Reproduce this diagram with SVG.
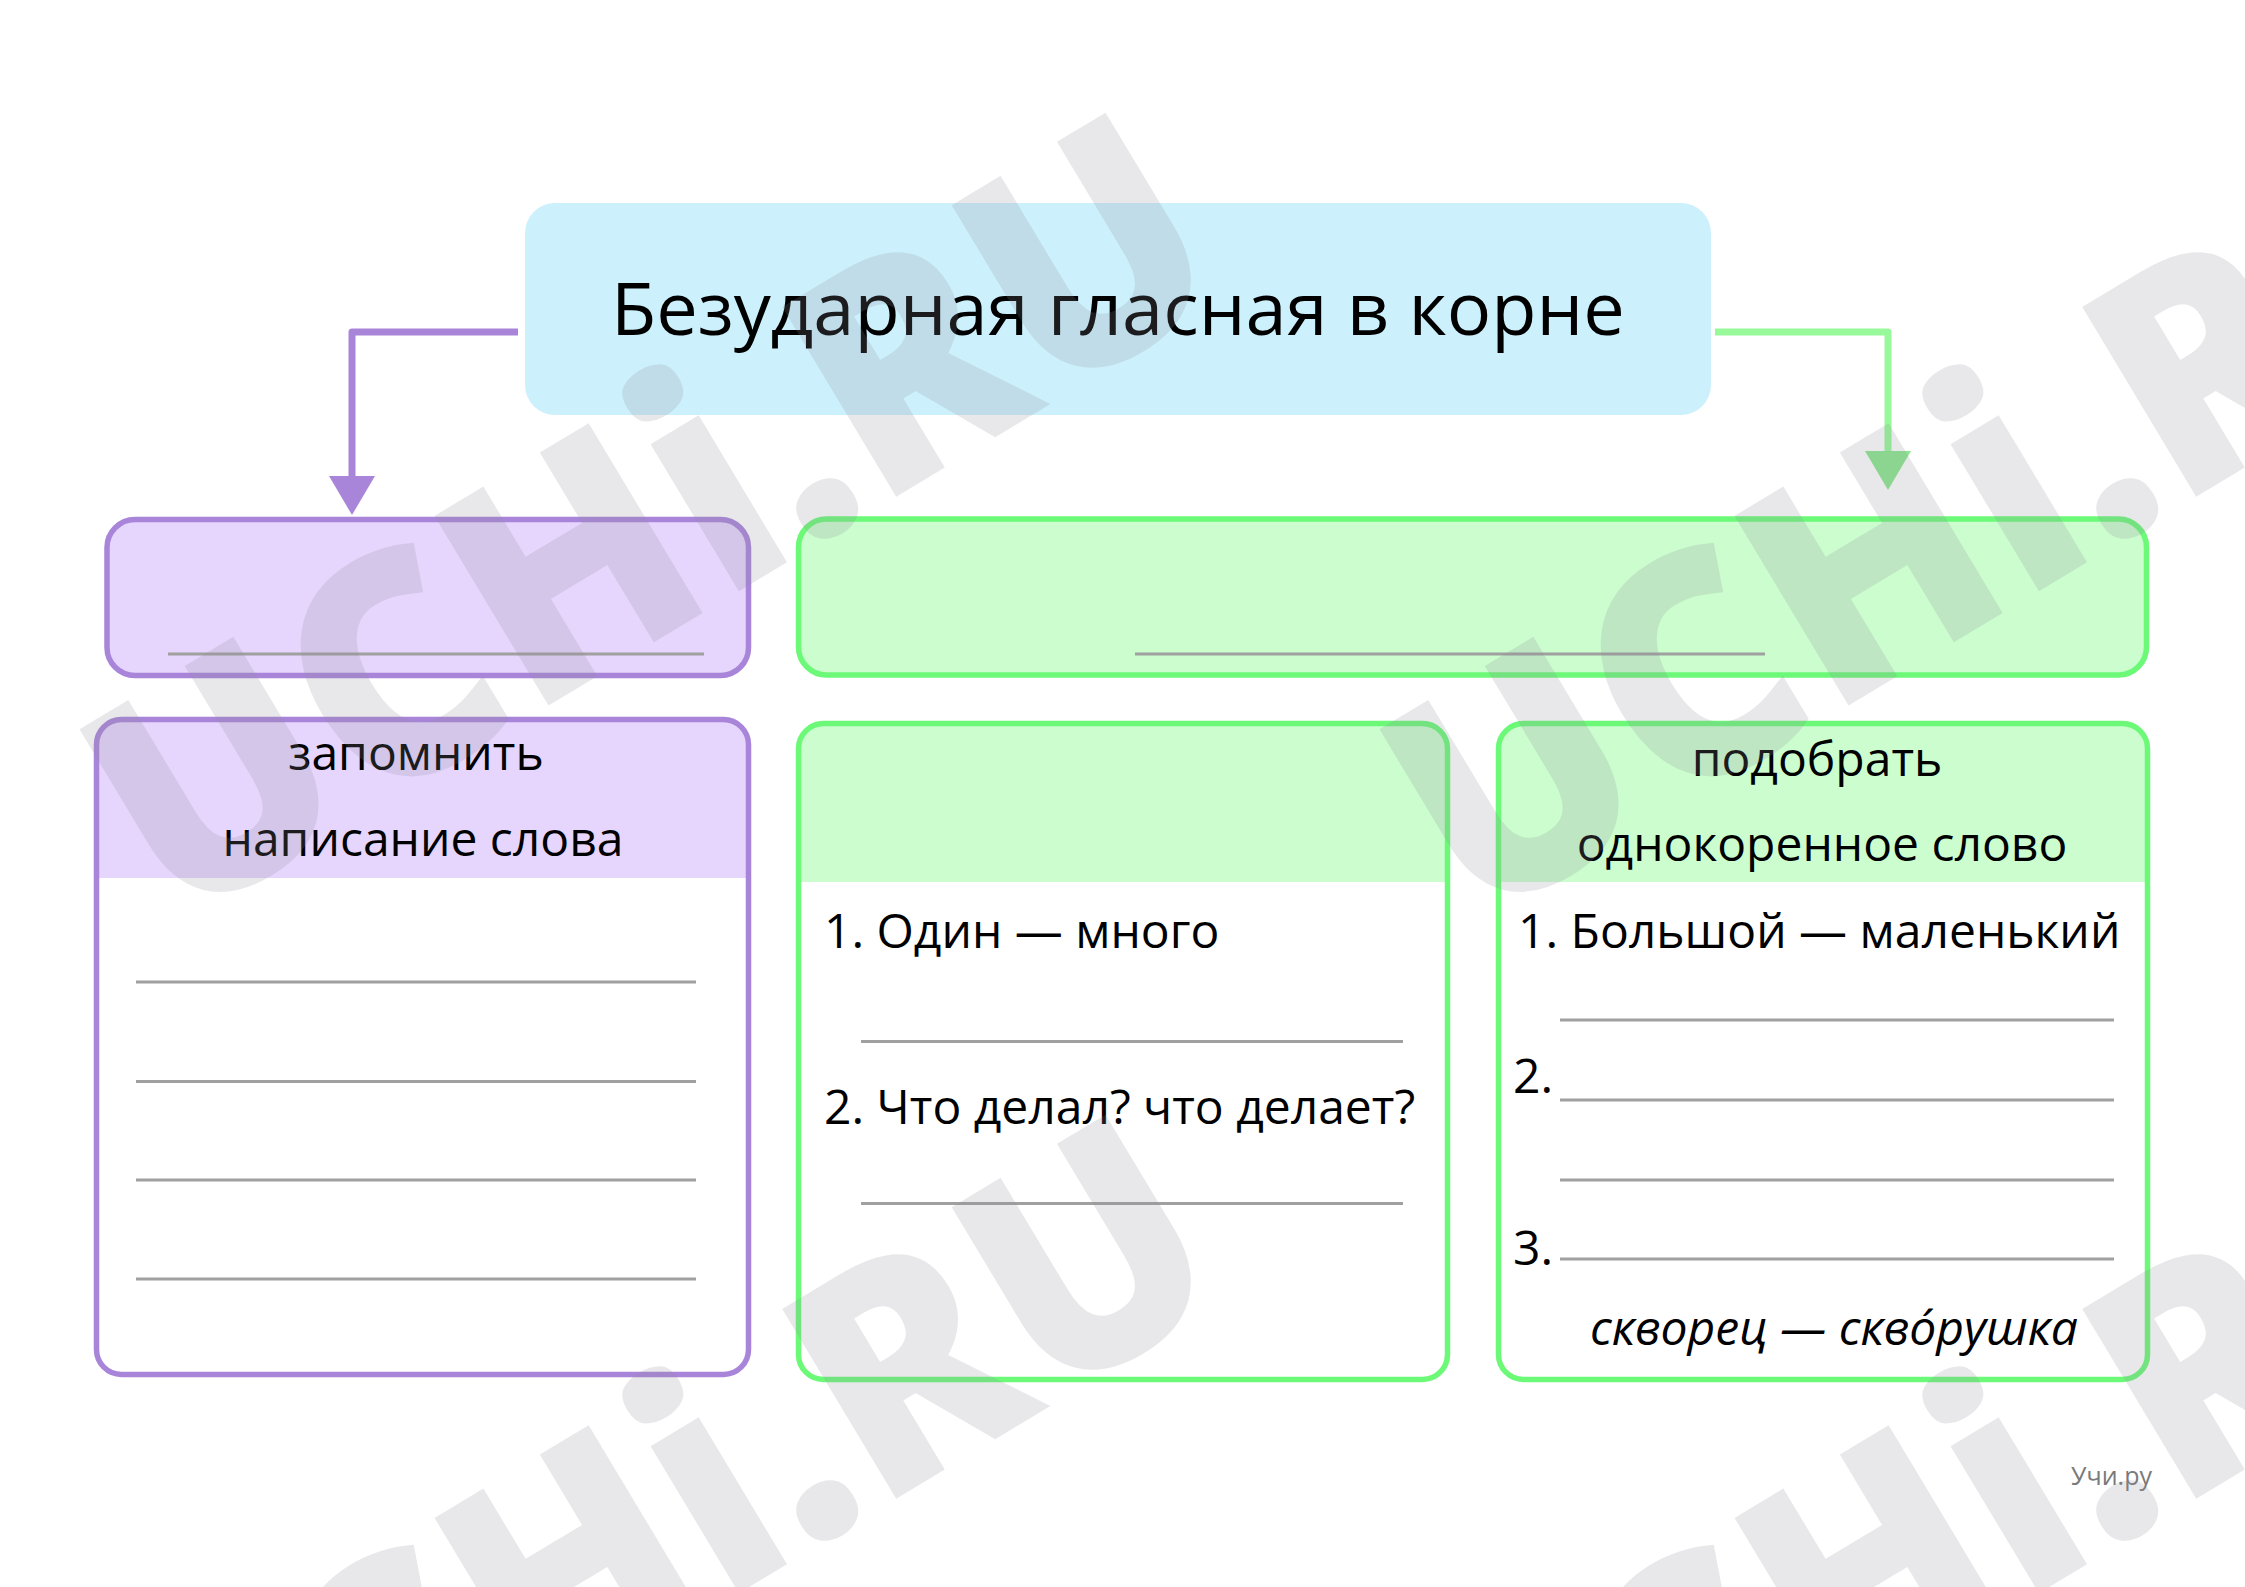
<svg xmlns="http://www.w3.org/2000/svg" width="2245" height="1587" viewBox="0 0 2245 1587">
<style>
.t{font-family:"Open Sans","Noto Sans","DejaVu Sans",sans-serif;font-size:48px;fill:#000}
.ln{stroke:#a0a0a0;stroke-width:3;fill:none}
.pb{stroke:#a985da;stroke-width:5.5}
.gb{stroke:#6cf978;stroke-width:5.5}
.wm{font-family:"Open Sans","Noto Sans",sans-serif;font-weight:800;font-size:310px;fill:#8a8a94;fill-opacity:0.2}
</style>
<defs>
<marker id="ap" markerUnits="userSpaceOnUse" markerWidth="40" markerHeight="46" refX="0" refY="23" orient="auto" viewBox="0 0 40 46"><path d="M0,0 L39,23 L0,46 Z" fill="#a985da"/></marker>
<marker id="ag" markerUnits="userSpaceOnUse" markerWidth="40" markerHeight="46" refX="0" refY="23" orient="auto" viewBox="0 0 40 46"><path d="M0,0 L39,23 L0,46 Z" fill="#8de88f"/></marker>
</defs>
<rect width="2245" height="1587" fill="#fff"/>

<g id="title">
<rect x="525" y="203" width="1186" height="212" rx="30" fill="#ccf1fd"/>
<text class="t" x="1118" y="335" text-anchor="middle" style="font-size:74px">Безударная гласная в корне</text>
</g>

<g id="connectors" fill="none" stroke-linejoin="round">
<path d="M518,332 H352 V476" stroke="#a985da" stroke-width="7" marker-end="url(#ap)"/>
<path d="M1715,332 H1888 V451" stroke="#98f99a" stroke-width="7" marker-end="url(#ag)"/>
</g>

<g id="purple-top">
<rect class="pb" x="107" y="519.5" width="641.5" height="156" rx="28" fill="#e6d5fd"/>
<line class="ln" x1="168" y1="654" x2="704" y2="654"/>
</g>

<g id="green-top">
<rect class="gb" x="798.5" y="519" width="1348" height="156" rx="28" fill="#cbfdce"/>
<line class="ln" x1="1135" y1="654" x2="1765" y2="654"/>
</g>

<g id="purple-bottom">
<rect x="96.5" y="719.5" width="652" height="655" rx="25" fill="#fff"/>
<path d="M96.5,878 V744.5 A25,25 0 0 1 121.5,719.5 H723.5 A25,25 0 0 1 748.5,744.5 V878 Z" fill="#e6d5fd"/>
<rect class="pb" x="96.5" y="719.5" width="652" height="655" rx="25" fill="none"/>
<text class="t" x="416" y="770" text-anchor="middle">запомнить</text>
<text class="t" x="423" y="856" text-anchor="middle">написание слова</text>
<line class="ln" x1="136" y1="982" x2="696" y2="982"/>
<line class="ln" x1="136" y1="1081.5" x2="696" y2="1081.5"/>
<line class="ln" x1="136" y1="1180" x2="696" y2="1180"/>
<line class="ln" x1="136" y1="1279" x2="696" y2="1279"/>
</g>

<g id="green-middle">
<rect x="798.5" y="723.5" width="649" height="656" rx="25" fill="#fff"/>
<path d="M798.5,882 V748.5 A25,25 0 0 1 823.5,723.5 H1422.5 A25,25 0 0 1 1447.5,748.5 V882 Z" fill="#cbfdce"/>
<rect class="gb" x="798.5" y="723.5" width="649" height="656" rx="25" fill="none"/>
<text class="t" x="824" y="948">1. Один — много</text>
<line class="ln" x1="861" y1="1041.5" x2="1403" y2="1041.5"/>
<text class="t" x="824" y="1124">2. Что делал? что делает?</text>
<line class="ln" x1="861" y1="1203.5" x2="1403" y2="1203.5"/>
</g>

<g id="green-right">
<rect x="1498.5" y="723.5" width="649" height="656" rx="25" fill="#fff"/>
<path d="M1498.5,882 V748.5 A25,25 0 0 1 1523.5,723.5 H2122.5 A25,25 0 0 1 2147.5,748.5 V882 Z" fill="#cbfdce"/>
<rect class="gb" x="1498.5" y="723.5" width="649" height="656" rx="25" fill="none"/>
<text class="t" x="1817" y="776" text-anchor="middle">подобрать</text>
<text class="t" x="1822" y="861" text-anchor="middle">однокоренное слово</text>
<text class="t" x="1518" y="948">1. Большой — маленький</text>
<line class="ln" x1="1560" y1="1020" x2="2114" y2="1020"/>
<text class="t" x="1513" y="1093">2.</text>
<line class="ln" x1="1560" y1="1100" x2="2114" y2="1100"/>
<line class="ln" x1="1560" y1="1180" x2="2114" y2="1180"/>
<text class="t" x="1513" y="1265">3.</text>
<line class="ln" x1="1560" y1="1259" x2="2114" y2="1259"/>
<text class="t" x="1834" y="1345" text-anchor="middle" font-style="italic">скворец — скво́рушка</text>
</g>

<text id="brand" x="2152" y="1485" text-anchor="end" style="font-family:'Open Sans','Noto Sans',sans-serif;font-size:25px;fill:#7a7a7a">Учи.ру</text>

<g id="watermark">
<text class="wm" transform="translate(175,930) rotate(-31)" textLength="1240" lengthAdjust="spacingAndGlyphs">UCHi.RU</text>
<text class="wm" transform="translate(1475,930) rotate(-31)" textLength="1240" lengthAdjust="spacingAndGlyphs">UCHi.RU</text>
<text class="wm" transform="translate(175,1932) rotate(-31)" textLength="1240" lengthAdjust="spacingAndGlyphs">UCHi.RU</text>
<text class="wm" transform="translate(1475,1932) rotate(-31)" textLength="1240" lengthAdjust="spacingAndGlyphs">UCHi.RU</text>
</g>
</svg>
